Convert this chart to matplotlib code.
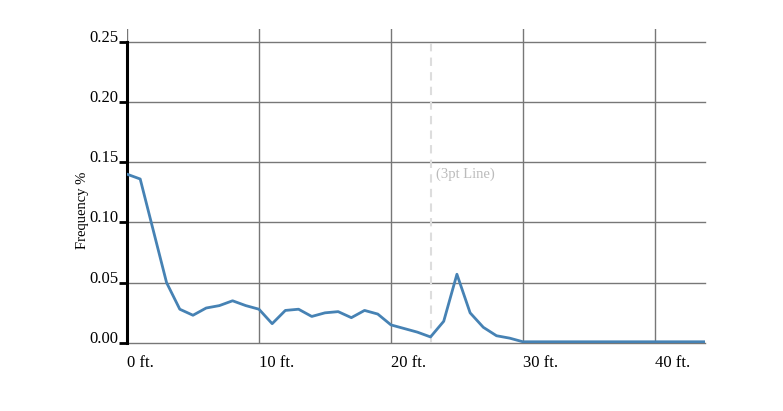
import numpy as np
import matplotlib.pyplot as plt

# shot distance (ft.) and frequency
distance = list(range(0, 45))
frequency = [0.140, 0.136, 0.093, 0.050, 0.028, 0.023, 0.029, 0.031, 0.035, 0.031,
             0.028, 0.016, 0.027, 0.028, 0.022, 0.025, 0.026, 0.021, 0.027, 0.024,
             0.015, 0.012, 0.009, 0.005, 0.018, 0.057, 0.025, 0.013, 0.006, 0.004,
             0.001, 0.001, 0.001, 0.001, 0.001, 0.001, 0.001, 0.001, 0.001, 0.001,
             0.001, 0.001, 0.001, 0.001, 0.001]

y_ticks = [0.00, 0.05, 0.10, 0.15, 0.20, 0.25]
x_ticks = [0, 10, 20, 30, 40]
x_labels = ['0 ft.', '10 ft.', '20 ft.', '30 ft.', '40 ft.']
three_pt = 23

plt.rcParams['font.family'] = 'Liberation Serif'

fig = plt.figure(figsize=(7.83, 4.11), dpi=100)
ax = fig.add_axes([0.1622, 0.1655, 0.9004 - 0.1622, 0.9294 - 0.1655])

ax.set_xlim(0, 43.8)
ax.set_ylim(0, 0.2604)

# grid
for yv in y_ticks:
    ax.axhline(yv, color='#777777', lw=1, zorder=1, clip_on=False)
for xv in x_ticks:
    ax.axvline(xv, color='#777777', lw=1, zorder=1)

# 3pt line
ax.plot([three_pt, three_pt], [0, 0.25], color='#dddddd', lw=1.5, ls=(0, (4, 3)), zorder=1)
ax.text(three_pt + 0.45, 0.140, '(3pt Line)', color='#bbbbbb', fontsize=10.5, ha='left', va='center')

ax.plot(distance, frequency, color='steelblue', lw=2, zorder=3, clip_on=True)

for s in ['top', 'right', 'bottom']:
    ax.spines[s].set_visible(False)
ax.spines['left'].set_bounds(0, 0.25)
ax.spines['left'].set_linewidth(2.2)
ax.spines['left'].set_color('black')

ax.set_yticks(y_ticks)
ax.set_yticklabels(['%.2f' % v for v in y_ticks], fontsize=12)
ax.tick_params(axis='y', length=6, width=2, pad=0, color='black')
for lbl in ax.get_yticklabels():
    lbl.set_va('baseline')

ax.set_xticks(x_ticks)
ax.set_xticklabels(x_labels, fontsize=12, ha='left')
ax.tick_params(axis='x', length=0, pad=9)

ax.set_ylabel('Frequency %', fontsize=10.5)
ax.yaxis.set_label_coords(-0.066, 0.424)

fig.savefig('out.png', dpi=100)
